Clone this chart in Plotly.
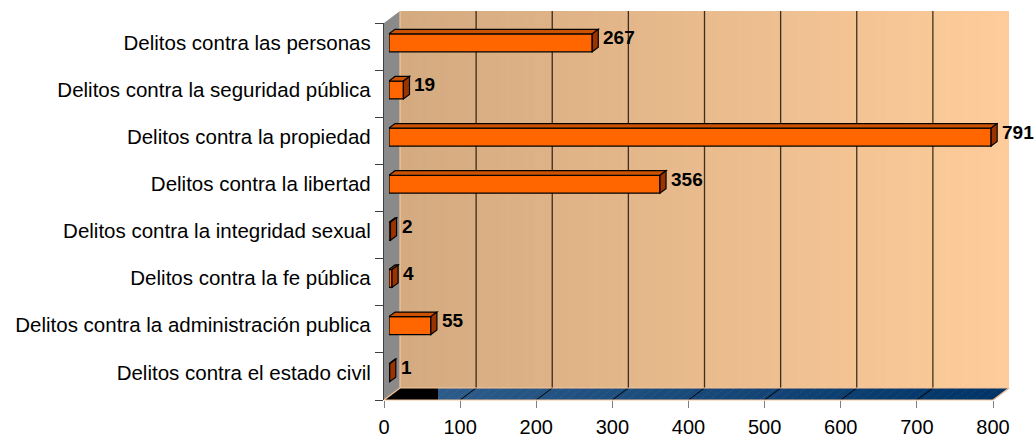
import plotly.graph_objects as go

# ---------------- data ----------------
categories = [
    "Delitos contra las personas",
    "Delitos contra la seguridad pública",
    "Delitos contra la propiedad",
    "Delitos contra la libertad",
    "Delitos contra la integridad sexual",
    "Delitos contra la fe pública",
    "Delitos contra la administración publica",
    "Delitos contra el estado civil",
]
values = [267, 19, 791, 356, 2, 4, 55, 1]
x_ticks = [0, 100, 200, 300, 400, 500, 600, 700, 800]

# ---------------- layout geometry (pixels) ----------------
W, H = 1034, 441
FX0, FX1 = 384.0, 993.0      # front plane: x of 0 and of max tick
FY0, FY1 = 23.0, 400.0       # front plane: top and bottom of category band
DX, DY = 16.0, -12.0         # depth vector (front -> back wall)
D_FRONT, D_BACK = 0.31, 0.69  # depth of the bar faces
XMAX = x_ticks[-1]
SX = (FX1 - FX0) / XMAX       # px per unit
n = len(categories)
SY = (FY1 - FY0) / n          # px per category
BAR_W = 0.38

def px(x):
    return x / W

def py(y):
    return 1 - y / H

FONT = "Liberation Sans, Arial, sans-serif"

def mix(c1, c2, t):
    return "rgb(%d,%d,%d)" % tuple(round(a + (b - a) * t) for a, b in zip(c1, c2))

shapes = []

# back wall with horizontal gradient
wall_l = (212, 170, 128)
wall_r = (254, 204, 154)
bx0, bx1 = FX0 + DX, FX1 + DX
by0, by1 = FY0 + DY, FY1 + DY
steps = 90
for k in range(steps):
    xa = bx0 + (bx1 - bx0) * k / steps
    xb = bx0 + (bx1 - bx0) * (k + 1) / steps + 0.6
    shapes.append(dict(type="rect", xref="paper", yref="paper", layer="below",
                       x0=px(xa), x1=px(min(xb, bx1)), y0=py(by1), y1=py(by0),
                       line=dict(width=0), fillcolor=mix(wall_l, wall_r, k / (steps - 1))))

# left side wall (grey)
shapes.append(dict(type="path", xref="paper", yref="paper", layer="below",
                   path="M %f,%f L %f,%f L %f,%f L %f,%f Z" % (
                       px(FX0), py(FY0), px(FX0 + DX), py(FY0 + DY),
                       px(FX0 + DX), py(FY1 + DY), px(FX0), py(FY1)),
                   fillcolor="#8a8a8a", line=dict(width=0)))

# floor with gradient
floor_l = (48, 94, 140)
floor_r = (0, 51, 102)
fsteps = 60
for k in range(fsteps):
    t0 = k / fsteps
    t1 = (k + 1) / fsteps
    xa = FX0 + (FX1 - FX0) * t0
    xb = FX0 + (FX1 - FX0) * t1 + 0.6
    shapes.append(dict(type="path", xref="paper", yref="paper", layer="below",
                       path="M %f,%f L %f,%f L %f,%f L %f,%f Z" % (
                           px(xa), py(FY1), px(xb), py(FY1),
                           px(xb + DX), py(FY1 + DY), px(xa + DX), py(FY1 + DY)),
                       fillcolor=mix(floor_l, floor_r, t0), line=dict(width=0)))

# black patch at the left of the floor
patch_x = FX0 + 54
shapes.append(dict(type="path", xref="paper", yref="paper", layer="below",
                   path="M %f,%f L %f,%f L %f,%f L %f,%f Z" % (
                       px(FX0), py(FY1), px(patch_x), py(FY1),
                       px(patch_x), py(FY1 + DY), px(FX0 + DX), py(FY1 + DY)),
                   fillcolor="#000000", line=dict(width=0)))

# grid lines on back wall and floor
for v in x_ticks[1:-1]:
    xf = FX0 + v * SX
    shapes.append(dict(type="line", xref="paper", yref="paper", layer="below",
                       x0=px(xf + DX), x1=px(xf + DX), y0=py(by0), y1=py(by1),
                       line=dict(color="rgba(20,10,0,0.8)", width=1.3)))
    shapes.append(dict(type="line", xref="paper", yref="paper", layer="below",
                       x0=px(xf), x1=px(xf + DX), y0=py(FY1), y1=py(FY1 + DY),
                       line=dict(color="#000000", width=1)))

# light edges of floor / wall
edge = "#f7c597"
for (xa, ya, xb, yb) in [
    (FX0, FY1, FX0 + DX, FY1 + DY),
    (FX1, FY1, FX1 + DX, FY1 + DY),
    (FX0 + DX, FY1 + DY, FX1 + DX, FY1 + DY),
    (FX0 + DX, FY0 + DY, FX0 + DX, FY1 + DY),
    (FX0, FY1, FX1, FY1),
]:
    shapes.append(dict(type="line", xref="paper", yref="paper", layer="below",
                       x0=px(xa), x1=px(xb), y0=py(ya), y1=py(yb),
                       line=dict(color=edge, width=1.2)))

# 3D faces of bars (data coordinates of the bar axes)
depth = D_BACK - D_FRONT
ddx = DX * depth / SX        # in value units
ddy = -DY * depth / SY       # in category units (upwards = smaller index)
positions = list(range(n))
for i, v in zip(positions, values):
    yt = i - BAR_W / 2
    yb = i + BAR_W / 2
    shapes.append(dict(type="path", xref="x", yref="y3", layer="above",
                       path="M %f,%f L %f,%f L %f,%f L %f,%f Z" % (
                           0, yt, v, yt, v + ddx, yt - ddy, ddx, yt - ddy),
                       fillcolor="#cc5200", line=dict(color="#000000", width=1.2)))
    shapes.append(dict(type="path", xref="x", yref="y3", layer="above",
                       path="M %f,%f L %f,%f L %f,%f L %f,%f Z" % (
                           v, yt, v + ddx, yt - ddy, v + ddx, yb - ddy, v, yb),
                       fillcolor="#993300", line=dict(color="#000000", width=1.2)))

annotations = []
for i, v in zip(positions, values):
    annotations.append(dict(xref="x", yref="y3", x=v, y=i, text=str(v),
                            xanchor="left", yanchor="middle", showarrow=False,
                            xshift=DX * depth + 3, yshift=5,
                            font=dict(family=FONT, size=19, color="#000000", weight="bold")))

fig = go.Figure()
fig.add_trace(go.Bar(
    x=values, y=positions, orientation="h", width=BAR_W, base=0,
    xaxis="x", yaxis="y3",
    marker=dict(color="#ff6600", line=dict(color="#000000", width=1.3)),
    hoverinfo="x", showlegend=False,
))
fig.add_trace(go.Scatter(x=[], y=[], xaxis="x2", yaxis="y", showlegend=False, hoverinfo="skip"))

bar_x0 = FX0 + DX * D_FRONT
fig.update_layout(
    width=W, height=H,
    margin=dict(l=0, r=0, t=0, b=0, pad=0),
    paper_bgcolor="#ffffff", plot_bgcolor="rgba(0,0,0,0)",
    showlegend=False,
    font=dict(family=FONT, size=19, color="#000000"),
    xaxis=dict(domain=[px(bar_x0), px(bar_x0 + XMAX * SX)], range=[0, XMAX],
               anchor="y3", visible=False, automargin=False, fixedrange=True),
    yaxis3=dict(domain=[py(FY1 + DY * D_FRONT), py(FY0 + DY * D_FRONT)],
                range=[n - 0.5, -0.5], anchor="x", visible=False,
                automargin=False, fixedrange=True),
    xaxis2=dict(domain=[px(FX0), px(FX1)], range=[0, XMAX], anchor="y",
                tickmode="array", tickvals=x_ticks, ticktext=[str(t) for t in x_ticks],
                ticks="outside", ticklen=7, tickcolor="#808080", tickwidth=1.3,
                showline=False, showgrid=False, zeroline=False,
                ticklabelstandoff=2,
                tickfont=dict(family=FONT, size=20, color="#000000"),
                automargin=False, fixedrange=True),
    yaxis=dict(domain=[py(FY1), py(FY0)], range=[n - 0.5, -0.5], anchor="x2",
               tickmode="array", tickvals=positions, ticktext=categories,
               ticks="", showline=True, linecolor="#404040", linewidth=1.3,
               showgrid=False, zeroline=False,
               minor=dict(tickmode="array", tickvals=[p - 0.5 for p in positions] + [n - 0.5],
                          ticks="outside", ticklen=8, tickcolor="#404040", tickwidth=1.3,
                          showgrid=False),
               ticklabelstandoff=8, ticklabelshift=4,
               tickfont=dict(family=FONT, size=20.5, color="#000000"),
               automargin=False, fixedrange=True),
    shapes=shapes,
    annotations=annotations,
)

fig.write_html("out.html", config={"displayModeBar": False},
               post_script="document.body.style.margin='0';document.body.style.padding='0';")
